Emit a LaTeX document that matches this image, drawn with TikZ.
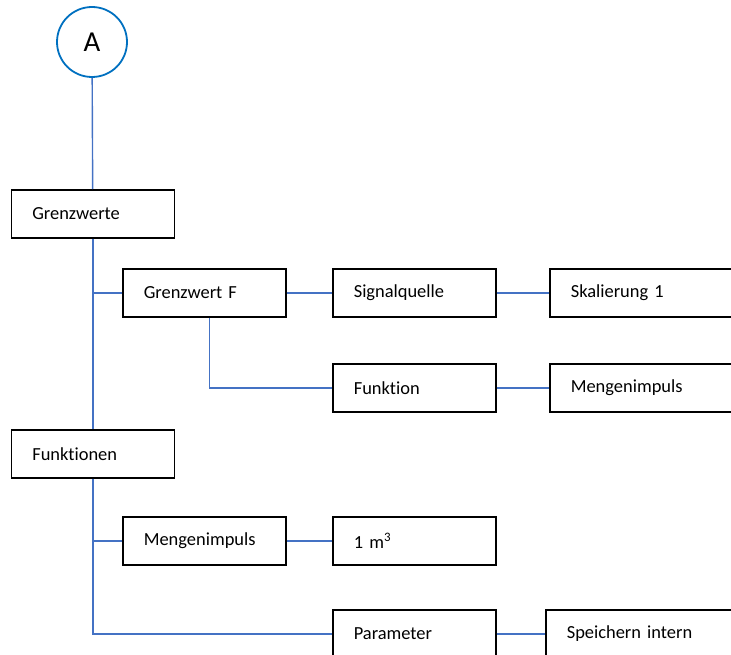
\documentclass[tikz,border=0pt]{standalone}
\usepackage{fontspec}
\setmainfont{Carlito}[Ligatures={NoCommon,NoDiscretionary},WordSpace=0.85]
\usepackage{xcolor}
\usetikzlibrary{positioning,calc}
\definecolor{linkblue}{RGB}{68,114,196}
\definecolor{ringblue}{RGB}{0,112,192}

\begin{document}
\begin{tikzpicture}[x=1bp,y=-1bp,font=\fontsize{18.5}{22}\selectfont,
  box/.style={draw=black,line width=1.6bp,rectangle,anchor=north west,
    minimum height=48bp,text width=121bp,inner xsep=21bp,inner ysep=0pt,align=left},
  widebox/.style={box,text width=170bp},
  link/.style={draw=linkblue,line width=1.4bp}]
  \useasboundingbox (0,0) rectangle (731,655);
  \clip (0,0) rectangle (731,655);
  % start
  \node[circle,draw=ringblue,line width=1.8bp,minimum size=70bp,inner sep=0pt,
    font=\fontsize{29}{30}\selectfont] (A) at (92,42) {A};
  % limits
  \node[box] (grenz) at (10.5,189) {Grenzwerte};
  \node[box] (grenzf) at (122,268) {Grenzwert F};
  \node[box] (signal) at (332,268) {Signalquelle};
  \node[widebox] (skal) at (549,268) {Skalierung 1};
  \node[box] (funktion) at (332,363) {Funktion};
  \node[widebox] (menge) at (549,363) {Mengenimpuls};
  % functions
  \node[box] (funk) at (10.5,429) {Funktionen};
  \node[box] (mengef) at (122,516) {Mengenimpuls};
  \node[box] (kubik) at (332,516) {1 m\textsuperscript{3}};
  \node[box] (param) at (332,609) {Parameter};
  \node[widebox] (speich) at (545,609) {Speichern intern};
  % connectors
  \draw[link] (A) -- (grenz);
  \draw[link] (grenz) -- (funk);
  \draw[link] (grenzf.west) -- (grenzf.west -| grenz.south);
  \draw[link] (grenzf) -- (signal);
  \draw[link] (signal) -- (skal);
  \draw[link] ([xshift=5bp]grenzf.south) |- (funktion.west);
  \draw[link] (funktion) -- (menge);
  \draw[link] (funk.south) |- (param.west);
  \draw[link] (mengef.west) -- (mengef.west -| funk.south);
  \draw[link] (mengef) -- (kubik);
  \draw[link] (param) -- (speich);
\end{tikzpicture}
\end{document}
